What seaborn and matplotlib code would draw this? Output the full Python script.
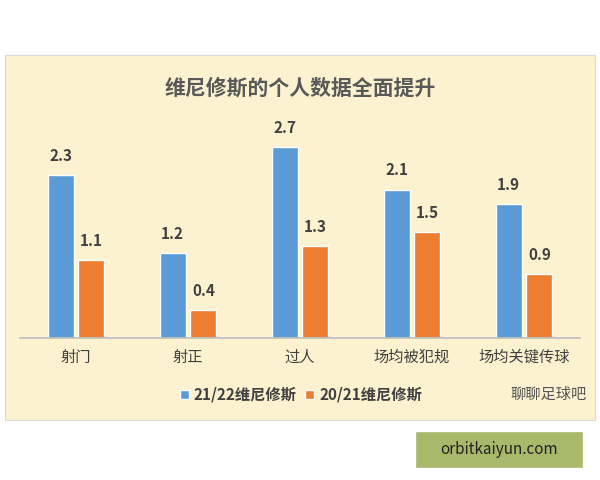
import matplotlib
matplotlib.use("Agg")
import matplotlib.pyplot as plt
import seaborn as sns
import pandas as pd
from matplotlib.patches import Rectangle

categories = ["射门", "射正", "过人", "场均被犯规", "场均关键传球"]
series_names = ["21/22维尼修斯", "20/21维尼修斯"]
vals_2122 = [2.3, 1.2, 2.7, 2.1, 1.9]
vals_2021 = [1.1, 0.4, 1.3, 1.5, 0.9]

sns.set_theme(style="white")
plt.rcParams['font.family'] = ['Noto Sans CJK SC', 'DejaVu Sans']

df = pd.DataFrame({
    "cat": categories * 2,
    "val": vals_2122 + vals_2021,
    "series": [series_names[0]] * 5 + [series_names[1]] * 5,
})

fig = plt.figure(figsize=(6, 4.8), dpi=100)
bg = "#FCF2CF"
fig.patches.append(Rectangle((5/600, 60/480), 590/600, 365/480, transform=fig.transFigure,
                             facecolor=bg, edgecolor="#D9D9D9", lw=0.8, zorder=-10))

ax = fig.add_axes([20/600, (480-338)/480, 560/600, 212/480])
ax.set_zorder(5)
ax.patch.set_alpha(0)
sns.barplot(data=df, x="cat", y="val", hue="series", palette=["#5B9BD5", "#ED7D31"],
            width=0.55, gap=0.15, ax=ax, legend=False, saturation=1)
ax.set_ylim(0, 3.0)
ax.set_xlim(-0.5, 4.5)
for c in ax.containers:
    ax.bar_label(c, fmt="%.1f", padding=8, fontsize=11, fontweight="bold", color="#404040")
ax.set_xlabel("")
ax.set_ylabel("")
ax.set_yticks([])
ax.tick_params(axis="x", length=0, labelsize=11, colors="#404040", pad=8)
for s in ["top", "left", "right"]:
    ax.spines[s].set_visible(False)
ax.spines["bottom"].set_color("#BFBFBF")

fig.text(0.5, (480-88)/480, "维尼修斯的个人数据全面提升", ha="center", va="center",
         fontsize=15, fontweight="bold", color="#595959")

# legend
y_leg = (480-395)/480
fig.patches.append(Rectangle((180/600, y_leg-4/480), 9/600, 9/480, transform=fig.transFigure,
                             facecolor="#5B9BD5"))
fig.text(194/600, y_leg, series_names[0], va="center", fontsize=11, fontweight="bold", color="#404040")
fig.patches.append(Rectangle((305/600, y_leg-4/480), 9/600, 9/480, transform=fig.transFigure,
                             facecolor="#ED7D31"))
fig.text(319/600, y_leg, series_names[1], va="center", fontsize=11, fontweight="bold", color="#404040")

fig.text(510/600, (480-394)/480, "聊聊足球吧", ha="left", va="center", fontsize=11, color="#555555")

fig.patches.append(Rectangle((415/600, 12/480), 168/600, 37/480, transform=fig.transFigure,
                             facecolor="#A9B86A"))
fig.text(499/600, 30/480, "orbitkaiyun.com", ha="center", va="center", fontsize=11, color="#222222")

fig.savefig("out.png", dpi=100)
